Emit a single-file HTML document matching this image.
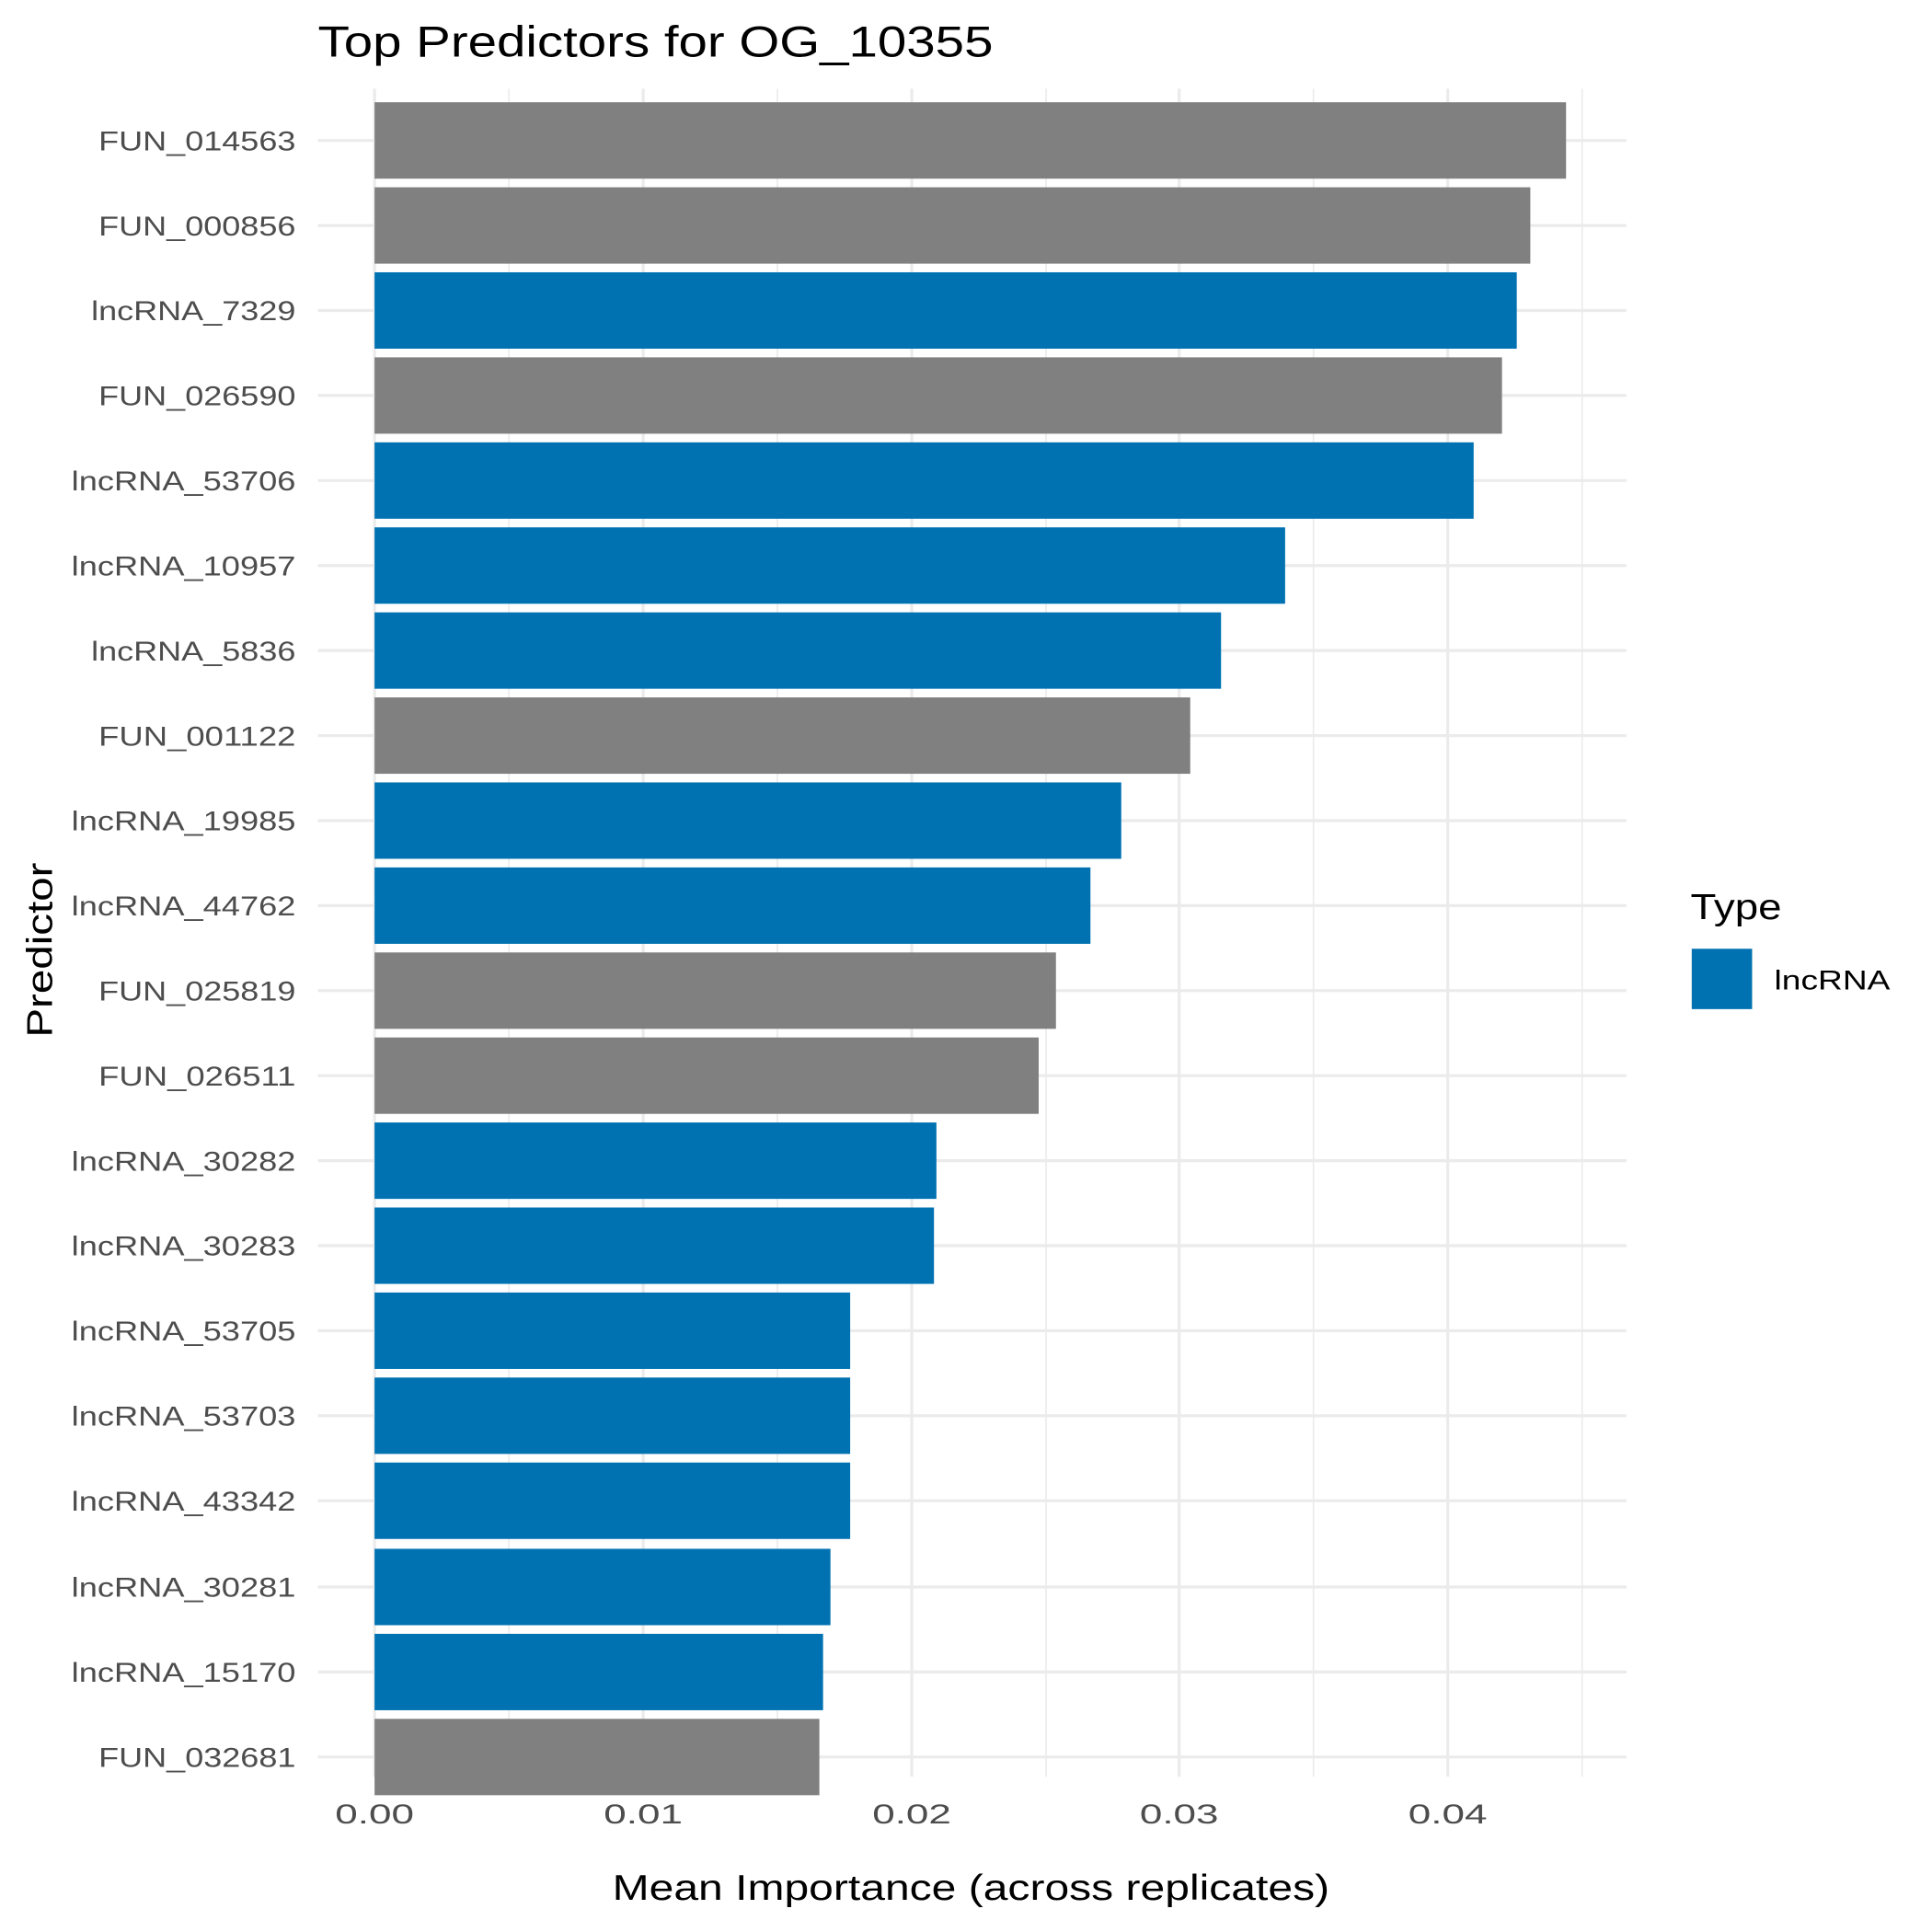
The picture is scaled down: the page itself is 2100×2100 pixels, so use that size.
<!DOCTYPE html>
<html><head><meta charset="utf-8"><style>html,body{margin:0;padding:0;background:#fff}svg{display:block}</style></head>
<body>
<svg width="2100" height="2100" viewBox="0 0 1568 1568" xmlns="http://www.w3.org/2000/svg" font-family="Liberation Sans, sans-serif">
<rect width="1568" height="1568" fill="#fff"/>
<g stroke="#EBEBEB" stroke-width="1.2">
<line x1="413" y1="72" x2="413" y2="1442"/><line x1="631" y1="72" x2="631" y2="1442"/><line x1="849" y1="72" x2="849" y2="1442"/><line x1="1066" y1="72" x2="1066" y2="1442"/><line x1="1284" y1="72" x2="1284" y2="1442"/>
</g>
<g stroke="#EBEBEB" stroke-width="2.4">
<line x1="304" y1="72" x2="304" y2="1442"/><line x1="522" y1="72" x2="522" y2="1442"/><line x1="740" y1="72" x2="740" y2="1442"/><line x1="957" y1="72" x2="957" y2="1442"/><line x1="1175" y1="72" x2="1175" y2="1442"/>
<line x1="258" x2="1320" y1="114" y2="114"/><line x1="258" x2="1320" y1="183" y2="183"/><line x1="258" x2="1320" y1="252" y2="252"/><line x1="258" x2="1320" y1="321" y2="321"/><line x1="258" x2="1320" y1="390" y2="390"/><line x1="258" x2="1320" y1="459" y2="459"/><line x1="258" x2="1320" y1="528" y2="528"/><line x1="258" x2="1320" y1="597" y2="597"/><line x1="258" x2="1320" y1="666" y2="666"/><line x1="258" x2="1320" y1="735" y2="735"/><line x1="258" x2="1320" y1="804" y2="804"/><line x1="258" x2="1320" y1="873" y2="873"/><line x1="258" x2="1320" y1="942" y2="942"/><line x1="258" x2="1320" y1="1011" y2="1011"/><line x1="258" x2="1320" y1="1080" y2="1080"/><line x1="258" x2="1320" y1="1149" y2="1149"/><line x1="258" x2="1320" y1="1218" y2="1218"/><line x1="258" x2="1320" y1="1288" y2="1288"/><line x1="258" x2="1320" y1="1357" y2="1357"/><line x1="258" x2="1320" y1="1426" y2="1426"/>
</g>
<g>
<rect x="304" y="83" width="967" height="62" fill="#808080"/>
<rect x="304" y="152" width="938" height="62" fill="#808080"/>
<rect x="304" y="221" width="927" height="62" fill="#0072B2"/>
<rect x="304" y="290" width="915" height="62" fill="#808080"/>
<rect x="304" y="359" width="892" height="62" fill="#0072B2"/>
<rect x="304" y="428" width="739" height="62" fill="#0072B2"/>
<rect x="304" y="497" width="687" height="62" fill="#0072B2"/>
<rect x="304" y="566" width="662" height="62" fill="#808080"/>
<rect x="304" y="635" width="606" height="62" fill="#0072B2"/>
<rect x="304" y="704" width="581" height="62" fill="#0072B2"/>
<rect x="304" y="773" width="553" height="62" fill="#808080"/>
<rect x="304" y="842" width="539" height="62" fill="#808080"/>
<rect x="304" y="911" width="456" height="62" fill="#0072B2"/>
<rect x="304" y="980" width="454" height="62" fill="#0072B2"/>
<rect x="304" y="1049" width="386" height="62" fill="#0072B2"/>
<rect x="304" y="1118" width="386" height="62" fill="#0072B2"/>
<rect x="304" y="1187" width="386" height="62" fill="#0072B2"/>
<rect x="304" y="1257" width="370" height="62" fill="#0072B2"/>
<rect x="304" y="1326" width="364" height="62" fill="#0072B2"/>
<rect x="304" y="1395" width="361" height="62" fill="#808080"/>
</g>
<g fill="#4D4D4D" font-size="22" text-anchor="end">
<text x="240" y="122" textLength="160" lengthAdjust="spacingAndGlyphs">FUN_014563</text>
<text x="240" y="191" textLength="160" lengthAdjust="spacingAndGlyphs">FUN_000856</text>
<text x="240" y="260" textLength="166" lengthAdjust="spacingAndGlyphs">lncRNA_7329</text>
<text x="240" y="329" textLength="160" lengthAdjust="spacingAndGlyphs">FUN_026590</text>
<text x="240" y="398" textLength="182" lengthAdjust="spacingAndGlyphs">lncRNA_53706</text>
<text x="240" y="467" textLength="182" lengthAdjust="spacingAndGlyphs">lncRNA_10957</text>
<text x="240" y="536" textLength="166" lengthAdjust="spacingAndGlyphs">lncRNA_5836</text>
<text x="240" y="605" textLength="160" lengthAdjust="spacingAndGlyphs">FUN_001122</text>
<text x="240" y="674" textLength="182" lengthAdjust="spacingAndGlyphs">lncRNA_19985</text>
<text x="240" y="743" textLength="182" lengthAdjust="spacingAndGlyphs">lncRNA_44762</text>
<text x="240" y="812" textLength="160" lengthAdjust="spacingAndGlyphs">FUN_025819</text>
<text x="240" y="881" textLength="160" lengthAdjust="spacingAndGlyphs">FUN_026511</text>
<text x="240" y="950" textLength="182" lengthAdjust="spacingAndGlyphs">lncRNA_30282</text>
<text x="240" y="1019" textLength="182" lengthAdjust="spacingAndGlyphs">lncRNA_30283</text>
<text x="240" y="1088" textLength="182" lengthAdjust="spacingAndGlyphs">lncRNA_53705</text>
<text x="240" y="1157" textLength="182" lengthAdjust="spacingAndGlyphs">lncRNA_53703</text>
<text x="240" y="1226" textLength="182" lengthAdjust="spacingAndGlyphs">lncRNA_43342</text>
<text x="240" y="1296" textLength="182" lengthAdjust="spacingAndGlyphs">lncRNA_30281</text>
<text x="240" y="1365" textLength="182" lengthAdjust="spacingAndGlyphs">lncRNA_15170</text>
<text x="240" y="1434" textLength="160" lengthAdjust="spacingAndGlyphs">FUN_032681</text>
</g>
<g fill="#4D4D4D" font-size="22" text-anchor="middle">
<text x="304" y="1480" textLength="64" lengthAdjust="spacingAndGlyphs">0.00</text>
<text x="522" y="1480" textLength="64" lengthAdjust="spacingAndGlyphs">0.01</text>
<text x="740" y="1480" textLength="64" lengthAdjust="spacingAndGlyphs">0.02</text>
<text x="957" y="1480" textLength="64" lengthAdjust="spacingAndGlyphs">0.03</text>
<text x="1175" y="1480" textLength="64" lengthAdjust="spacingAndGlyphs">0.04</text>
</g>
<text x="788" y="1542" font-size="29" text-anchor="middle" textLength="582" lengthAdjust="spacingAndGlyphs">Mean Importance (across replicates)</text>
<text transform="translate(42,771) rotate(-90)" font-size="29" text-anchor="middle" textLength="142" lengthAdjust="spacingAndGlyphs">Predictor</text>
<text x="258" y="46" font-size="35" textLength="548" lengthAdjust="spacingAndGlyphs">Top Predictors for OG_10355</text>
<text x="1372" y="746" font-size="29" textLength="74" lengthAdjust="spacingAndGlyphs">Type</text>
<rect x="1373" y="770" width="49" height="49" fill="#0072B2"/>
<text x="1440" y="803" font-size="22" textLength="94" lengthAdjust="spacingAndGlyphs">lncRNA</text>
</svg>
</body></html>
